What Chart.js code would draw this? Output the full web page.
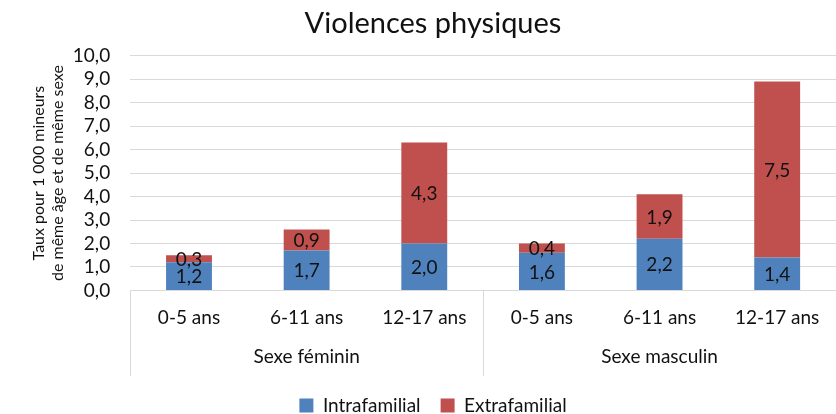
<!DOCTYPE html>
<html>
<head>
<meta charset="utf-8">
<script src="https://cdn.jsdelivr.net/npm/chart.js@4"></script>
<style>
  html, body { margin: 0; padding: 0; background: #fff; }
  #wrap { width: 836px; height: 414px; }
</style>
</head>
<body>
<div id="wrap"><canvas id="chart"></canvas></div>
<script>
const ages = ["0-5 ans", "6-11 ans", "12-17 ans", "0-5 ans", "6-11 ans", "12-17 ans"];
const groups = ["Sexe féminin", "Sexe masculin"];
const intrafamilial = [1.2, 1.7, 2.0, 1.6, 2.2, 1.4];
const extrafamilial = [0.3, 0.9, 4.3, 0.4, 1.9, 7.5];

const FONT = "Lato, 'Open Sans', sans-serif";
const fmt = v => v.toFixed(1).replace(".", ",");

// value labels in the middle of each segment
const segLabels = {
  id: "segLabels",
  afterDatasetsDraw(chart) {
    const ctx = chart.ctx;
    ctx.save();
    ctx.font = "19px " + FONT;
    ctx.fillStyle = "#111";
    ctx.textAlign = "center";
    ctx.textBaseline = "middle";
    chart.data.datasets.forEach((ds, i) => {
      chart.getDatasetMeta(i).data.forEach((bar, j) => {
        const p = bar.getProps(["x", "y", "base"], true);
        ctx.fillText(fmt(ds.data[j]), p.x, (p.y + p.base) / 2 + 1);
      });
    });
    ctx.restore();
  }
};

// vertical separators between the two groups
const groupLines = {
  id: "groupLines",
  afterDraw(chart) {
    const x = chart.scales.x, x2 = chart.scales.x2;
    const mid = (x.getPixelForValue(2) + x.getPixelForValue(3)) / 2;
    const ctx = chart.ctx;
    ctx.save();
    ctx.strokeStyle = "#D9D9D9";
    ctx.lineWidth = 1;
    [x.left, mid, x.right].forEach(px => {
      const xx = Math.round(px) + 0.5;
      ctx.beginPath();
      ctx.moveTo(xx, x.top);
      ctx.lineTo(xx, x2.bottom);
      ctx.stroke();
    });
    ctx.restore();
  }
};

new Chart(document.getElementById("chart"), {
  type: "bar",
  plugins: [segLabels, groupLines],
  data: {
    labels: ages,
    datasets: [
      { label: "Intrafamilial", data: intrafamilial, backgroundColor: "#4F81BD",
        barPercentage: 0.39, categoryPercentage: 1 },
      { label: "Extrafamilial", data: extrafamilial, backgroundColor: "#C0504D",
        barPercentage: 0.39, categoryPercentage: 1 }
    ]
  },
  options: {
    responsive: true,
    maintainAspectRatio: false,
    animation: false,
    layout: { padding: { left: 30, right: 0, top: 6, bottom: 0 } },
    plugins: {
      title: {
        display: true,
        text: "Violences physiques",
        color: "#111",
        font: { family: FONT, size: 29, weight: "normal" },
        padding: { top: 0, bottom: 15 }
      },
      legend: {
        position: "bottom",
        maxHeight: 38,
        labels: {
          color: "#111",
          boxWidth: 14,
          boxHeight: 14,
          padding: 20,
          font: { family: FONT, size: 19 }
        }
      },
      tooltip: { enabled: false }
    },
    scales: {
      x: {
        stacked: true,
        grid: { display: false },
        border: { color: "#D9D9D9" },
        ticks: { color: "#111", font: { family: FONT, size: 19 }, padding: 8, autoSkip: false, maxRotation: 0 }
      },
      x2: {
        type: "category",
        labels: groups,
        position: "bottom",
        offset: true,
        grid: { display: false, drawTicks: false },
        border: { display: false },
        ticks: { color: "#111", font: { family: FONT, size: 19 }, padding: 8, autoSkip: false, maxRotation: 0 }
      },
      y: {
        stacked: true,
        min: 0,
        max: 10,
        ticks: {
          stepSize: 1,
          autoSkip: false,
          color: "#111",
          padding: 20,
          font: { family: FONT, size: 19 },
          callback: v => fmt(v)
        },
        grid: { color: "#D9D9D9", drawTicks: false },
        border: { display: false },
        title: {
          display: true,
          text: ["Taux pour 1 000 mineurs", "de même âge et de même sexe"],
          color: "#111",
          font: { family: FONT, size: 16, lineHeight: 1.15 },
          padding: { top: 0, bottom: -14 }
        }
      }
    }
  }
});
</script>
</body>
</html>
